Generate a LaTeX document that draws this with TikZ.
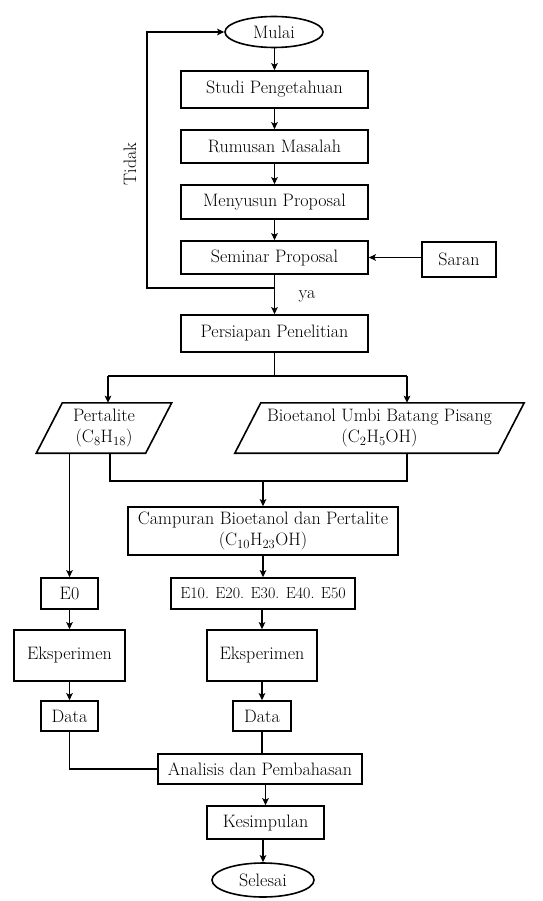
\documentclass[tikz,border=0pt]{standalone}
\usepackage{fontspec}
\usetikzlibrary{arrows.meta,shapes.geometric}
\begin{document}
\begin{tikzpicture}[x=1pt,y=-1pt,
  every node/.style={font=\fontsize{18}{21}\selectfont},
  box/.style={draw,line width=1.6pt,inner sep=0pt,align=center},
  oval/.style={draw,ellipse,line width=1.6pt,inner sep=0pt},
  para/.style={inner sep=0pt,align=center},
  line/.style={line width=1.6pt},
  arr/.style={line width=1.6pt,-{Stealth[length=7pt,width=6.5pt,inset=1.5pt]}},
]
\useasboundingbox (0,0) rectangle (542,901);

\node[oval,minimum width=98pt,minimum height=31pt] (mulai) at (274,32) {Mulai};
\node[box,minimum width=187pt,minimum height=37pt] (studi) at (274.5,89.5) {Studi Pengetahuan};
\node[box,minimum width=187pt,minimum height=33pt] (rumus) at (274.5,146.5) {Rumusan Masalah};
\node[box,minimum width=187pt,minimum height=34pt] (menyusun) at (274.5,202) {Menyusun Proposal};
\node[box,minimum width=187pt,minimum height=33pt] (seminar) at (274.5,257.5) {Seminar Proposal};
\node[box,minimum width=74pt,minimum height=35pt] (saran) at (459,259.5) {Saran};
\node (ya) at (307,296) {ya};
\node[rotate=90] (tidak) at (130,164) {Tidak};
\node[box,minimum width=187pt,minimum height=37pt] (pers) at (274.5,333.5) {Persiapan Penelitian};

\node[para,minimum width=109pt,minimum height=50pt] (pert) at (104,428) {Pertalite\\(C\textsubscript{8}H\textsubscript{18})};
\draw[line] ([xshift=13pt]pert.north west) -- ([xshift=13pt]pert.north east) -- ([xshift=-13pt]pert.south east) -- ([xshift=-13pt]pert.south west) -- cycle;
\node[para,minimum width=263pt,minimum height=50pt] (bio) at (379.5,428) {Bioetanol Umbi Batang Pisang\\(C\textsubscript{2}H\textsubscript{5}OH)};
\draw[line] ([xshift=13pt]bio.north west) -- ([xshift=13pt]bio.north east) -- ([xshift=-13pt]bio.south east) -- ([xshift=-13pt]bio.south west) -- cycle;

\node[box,minimum width=270pt,minimum height=48pt] (camp) at (263,531) {Campuran Bioetanol dan Pertalite\\(C\textsubscript{10}H\textsubscript{23}OH)};
\node[box,minimum width=57pt,minimum height=31pt] (e0) at (69.5,593.5) {E0};
\node[box,minimum width=184pt,minimum height=31pt,font=\fontsize{16}{20}\selectfont] (e10) at (263,593.5) {E10. E20. E30. E40. E50};
\node[box,minimum width=111pt,minimum height=51pt] (eksl) at (69.5,655.5) {Eksperimen};
\node[box,minimum width=110pt,minimum height=51pt] (eksr) at (262,655.5) {Eksperimen};
\node[box,minimum width=57pt,minimum height=30pt] (datal) at (69.5,716) {Data};
\node[box,minimum width=58pt,minimum height=30pt] (datar) at (262,716) {Data};
\node[box,minimum width=204pt,minimum height=30pt] (ana) at (260,769) {Analisis dan Pembahasan};
\node[box,minimum width=117pt,minimum height=33pt] (kes) at (265.5,822.5) {Kesimpulan};
\node[oval,minimum width=102pt,minimum height=34pt] (selesai) at (263,880) {Selesai};

% top chain
\draw[arr] (mulai.south -| studi.north) -- (studi.north);
\draw[arr] (studi) -- (rumus);
\draw[arr] (rumus) -- (menyusun);
\draw[arr] (menyusun) -- (seminar);
\draw[arr] (seminar) -- (pers);
\draw[arr] (saran.west |- seminar.east) -- (seminar.east);
\coordinate (lp) at (274.5,288);
\draw[arr] (lp) -| ([xshift=-77pt]mulai.west) -- (mulai.west);

% branch
\coordinate (br) at (274.5,376);
\draw[line] (pers.south) -- (br);
\draw[arr] ([xshift=4pt]pert.north |- br) -- ([xshift=4pt]pert.north);
\draw[arr] ([xshift=27.5pt]bio.north |- br) -- ([xshift=27.5pt]bio.north);
\draw[line] ([xshift=4pt]pert.north |- br) -- ([xshift=27.5pt]bio.north |- br);

% merge
\coordinate (mg) at (263,481);
\draw[line] ([xshift=6pt]pert.south) -- ([xshift=6pt]pert.south |- mg) -- ([xshift=27.5pt]bio.south |- mg) -- ([xshift=27.5pt]bio.south);
\draw[arr] (mg) -- (camp.north);

% left column
\draw[arr] (e0.north |- pert.south) -- (e0.north);
\draw[arr] (e0) -- (eksl);
\draw[arr] (eksl) -- (datal);
\draw[line] (datal.south) |- (ana.west);

% right column
\draw[arr] (e10.north |- camp.south) -- (e10.north);
\draw[arr] (e10.south -| eksr.north) -- (eksr.north);
\draw[arr] (eksr) -- (datar);
\draw[line] (datar.south) -- (datar.south |- ana.north);
\draw[arr] (kes.north |- ana.south) -- (kes.north);
\draw[arr] (selesai.north |- kes.south) -- (selesai.north);
\end{tikzpicture}
\end{document}
